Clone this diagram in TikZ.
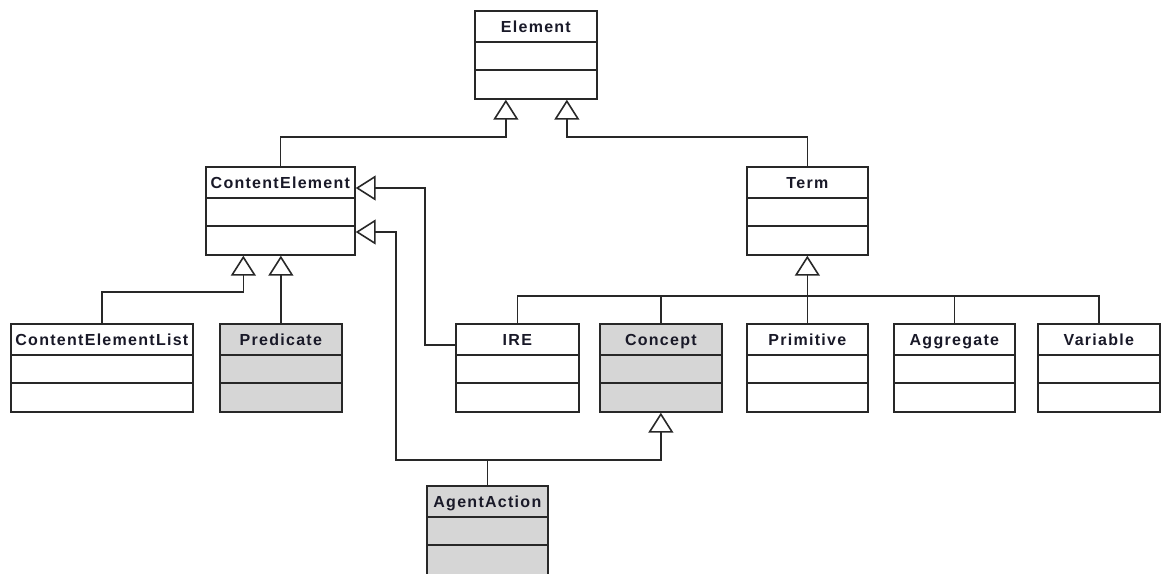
\documentclass[tikz,border=0pt]{standalone}
\usepackage{fontspec}
\setmainfont{Liberation Sans}
\usetikzlibrary{calc,arrows.meta}
\definecolor{umlgray}{RGB}{214,214,214}
\definecolor{umlline}{RGB}{40,40,40}
\definecolor{umltext}{RGB}{25,25,40}
\newcommand\umlclass[7][]{%
  \node[classbox,fill=#6,minimum width=#5pt,anchor=north west,#1] (#2) at (#3,#4) {};
  \node[classtitle] (#2-t) at ($(#2.north)+(0,22)$) {#7};
  \draw[classline] ($(#2.north west)+(0,32)$) -- ($(#2.north east)+(0,32)$);
  \draw[classline] ($(#2.north west)+(0,60)$) -- ($(#2.north east)+(0,60)$);
}
\begin{document}
\begin{tikzpicture}[x=1pt,y=-1pt,
  classbox/.style={draw=umlline,line width=1.7pt,rectangle,inner sep=0pt,minimum height=88pt},
  classline/.style={draw=umlline,line width=1.7pt},
  classtitle/.style={font=\fontsize{16}{18}\selectfont\bfseries\addfontfeature{LetterSpace=8},text=umltext,inner sep=0pt,anchor=base},
  conn/.style={draw=umlline,line width=1.6pt},
  gen/.style={conn,-{Triangle[open,length=20pt,width=25pt]}}]
\useasboundingbox (0,0) rectangle (1162,573);
\umlclass{el}{474}{10}{122}{white}{Element}
\umlclass{cel}{205}{166}{149}{white}{ContentElement}
\umlclass{term}{746}{166}{121}{white}{Term}
\umlclass{celist}{10}{323}{182}{white}{ContentElementList}
\umlclass{pred}{219}{323}{122}{umlgray}{Predicate}
\umlclass{ire}{455}{323}{123}{white}{IRE}
\umlclass{concept}{599}{323}{122}{umlgray}{Concept}
\umlclass{prim}{746}{323}{121}{white}{Primitive}
\umlclass{agg}{893}{323}{121}{white}{Aggregate}
\umlclass{var}{1037}{323}{122}{white}{Variable}
\umlclass[minimum height=92pt]{aa}{426}{485}{121}{umlgray}{AgentAction}
% to Element
\draw[gen] (cel.north) |- ($(el.south)+(-30,37)$) -- ($(el.south)+(-30,0)$);
\draw[gen] (term.north) |- ($(el.south)+(31,37)$) -- ($(el.south)+(31,0)$);
% to ContentElement
\draw[gen] (celist.north) |- ($(cel.south)+(-37,36)$) -- ($(cel.south)+(-37,0)$);
\draw[gen] (pred.north) -- (pred.north |- cel.south);
\draw[gen] ($(ire.north west)+(0,22)$) -- ++(-30,0) |- ($(cel.north east)+(0,22)$);
\coordinate (j1) at ($(aa.north)+(0,-25)$);
\draw[gen] (aa.north) -- (j1) -| ($(cel.north east)+(40,66)$) -- ($(cel.north east)+(0,66)$);
\draw[gen] (j1) -| (concept.south);
% to Term
\coordinate (bus) at ($(term.south)+(0,40)$);
\draw[gen] (prim.north) -- (term.south);
\draw[conn] (ire.north) |- (bus);
\draw[conn] (concept.north) |- (bus);
\draw[conn] (agg.north) |- (bus);
\draw[conn] (var.north) |- (bus);
\end{tikzpicture}
\end{document}
